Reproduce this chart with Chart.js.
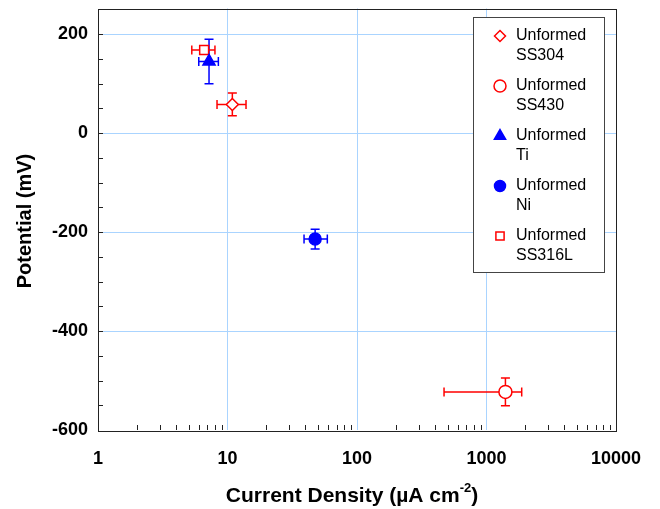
<!DOCTYPE html>
<html>
<head>
<meta charset="utf-8">
<script src="https://cdn.jsdelivr.net/npm/chart.js@4.4.1/dist/chart.umd.min.js"></script>
<style>
  body { margin: 0; background: #fff; }
  #wrap { width: 660px; height: 509px; position: relative; }
</style>
</head>
<body>
<div id="wrap"><canvas id="polChart"></canvas></div>
<script>
// values
var seriesNames = ['Unformed SS304', 'Unformed SS430', 'Unformed Ti', 'Unformed Ni', 'Unformed SS316L'];
var currentDensity = [10.9, 1400, 7.2, 47.5, 6.6];     // uA cm-2
var potential = [58, -523, 145, -214, 168];              // mV
var currentLow = [8.3, 470, 6.0, 39, 5.3];
var currentHigh = [13.9, 1870, 8.5, 59, 8.0];
var potentialErr = [23, 28, 45, 20, 8];
var xTicks = [1, 10, 100, 1000, 10000];
var yTicks = [-600, -400, -200, 0, 200];

var red = '#ff0000';
var blue = '#0000ff';
var gridBlue = '#aad4ff';
var none = 'rgba(0,0,0,0)';
var styles = [
    { shape: 'rectRot', radius: 6, fill: '#fff', line: red },
    { shape: 'circle', radius: 6.5, fill: '#fff', line: red },
    { shape: 'triangle', radius: 7, fill: blue, line: blue },
    { shape: 'circle', radius: 6, fill: blue, line: blue },
    { shape: 'rect', radius: 6.3, fill: '#fff', line: red }
];

var datasets = [];
for (var i = 0; i < seriesNames.length; i++) {
    datasets.push({
        label: seriesNames[i],
        data: [{ x: currentDensity[i], y: potential[i] }],
        pointStyle: styles[i].shape,
        pointRadius: styles[i].radius,
        pointHoverRadius: styles[i].radius,
        backgroundColor: styles[i].fill,
        borderColor: styles[i].line,
        pointBorderWidth: 1.5
    });
}

// error bars, drawn under the markers
var errorBars = {
    id: 'errorBars',
    beforeDatasetsDraw: function (chart) {
        var ctx = chart.ctx, xs = chart.scales.x, ys = chart.scales.y;
        var cap = 4.5;
        ctx.save();
        ctx.lineWidth = 1.5;
        for (var i = 0; i < seriesNames.length; i++) {
            var px = xs.getPixelForValue(currentDensity[i]);
            var py = ys.getPixelForValue(potential[i]);
            var x1 = xs.getPixelForValue(currentLow[i]);
            var x2 = xs.getPixelForValue(currentHigh[i]);
            var y1 = ys.getPixelForValue(potential[i] + potentialErr[i]);
            var y2 = ys.getPixelForValue(potential[i] - potentialErr[i]);
            ctx.strokeStyle = styles[i].line;
            ctx.beginPath();
            ctx.moveTo(x1, py); ctx.lineTo(x2, py);
            ctx.moveTo(x1, py - cap); ctx.lineTo(x1, py + cap);
            ctx.moveTo(x2, py - cap); ctx.lineTo(x2, py + cap);
            ctx.moveTo(px, y1); ctx.lineTo(px, y2);
            ctx.moveTo(px - cap, y1); ctx.lineTo(px + cap, y1);
            ctx.moveTo(px - cap, y2); ctx.lineTo(px + cap, y2);
            ctx.stroke();
        }
        ctx.restore();
    }
};

// frame, minor ticks, axis titles and the boxed legend
var decorations = {
    id: 'decorations',
    afterDraw: function (chart) {
        var ctx = chart.ctx, a = chart.chartArea;
        var xs = chart.scales.x, ys = chart.scales.y;
        ctx.save();
        ctx.strokeStyle = '#222';
        ctx.lineWidth = 1;
        ctx.beginPath();
        // minor ticks on y every 50 mV
        for (var v = -550; v < 260; v += 50) {
            var py = Math.round(ys.getPixelForValue(v)) + 0.5;
            ctx.moveTo(a.left, py); ctx.lineTo(a.left + 5, py);
        }
        // minor ticks on x
        for (var d = 1; d < 10000; d *= 10) {
            for (var m = 2; m <= 9; m++) {
                var px = Math.round(xs.getPixelForValue(d * m)) + 0.5;
                ctx.moveTo(px, a.bottom); ctx.lineTo(px, a.bottom - 5);
            }
        }
        ctx.stroke();
        ctx.strokeRect(Math.round(a.left) + 0.5, Math.round(a.top) + 0.5,
            Math.round(a.right - a.left), Math.round(a.bottom - a.top));

        // axis titles
        var big = 'bold 21px "Liberation Sans", Arial, sans-serif';
        var small = 'bold 13px "Liberation Sans", Arial, sans-serif';
        ctx.fillStyle = '#000';
        ctx.textBaseline = 'middle';
        ctx.textAlign = 'left';
        var t1 = 'Current Density (µA cm', sup = '-2', t2 = ')';
        ctx.font = big;
        var w1 = ctx.measureText(t1).width, w3 = ctx.measureText(t2).width;
        ctx.font = small;
        var w2 = ctx.measureText(sup).width;
        var tx = 352 - (w1 + w2 + w3) / 2, ty = 496;
        ctx.font = big;
        ctx.fillText(t1, tx, ty);
        ctx.font = small;
        ctx.fillText(sup, tx + w1, ty - 8);
        ctx.font = big;
        ctx.fillText(t2, tx + w1 + w2, ty);

        ctx.save();
        ctx.translate(25, 221);
        ctx.rotate(-Math.PI / 2);
        ctx.textAlign = 'center';
        ctx.font = 'bold 20px "Liberation Sans", Arial, sans-serif';
        ctx.fillText('Potential (mV)', 0, 0);
        ctx.restore();

        // legend box
        var lx = 473, ly = 17, lw = 131, lh = 255;
        ctx.fillStyle = '#fff';
        ctx.fillRect(lx, ly, lw, lh);
        ctx.strokeStyle = '#444';
        ctx.lineWidth = 1;
        ctx.strokeRect(lx + 0.5, ly + 0.5, lw, lh);
        ctx.font = '16px "Liberation Sans", Arial, sans-serif';
        for (var i = 0; i < seriesNames.length; i++) {
            var cy = 36 + i * 50;
            var words = seriesNames[i].split(' ');
            ctx.fillStyle = styles[i].fill;
            ctx.strokeStyle = styles[i].line;
            ctx.lineWidth = 1.5;
            Chart.helpers.drawPoint(ctx, {
                pointStyle: styles[i].shape,
                radius: styles[i].radius - 0.5,
                borderWidth: 1.5
            }, 500, cy);
            ctx.fillStyle = '#000';
            ctx.fillText(words[0], 516, cy);
            ctx.fillText(words[1], 516, cy + 20);
        }
        ctx.restore();
    }
};

var chart = new Chart(document.getElementById('polChart'), {
    type: 'scatter',
    data: { datasets: datasets },
    plugins: [errorBars, decorations],
    options: {
        responsive: true,
        maintainAspectRatio: false,
        animation: false,
        layout: { padding: { top: 8, right: 44, left: 0, bottom: 0 } },
        plugins: {
            legend: { display: false },
            tooltip: { enabled: false }
        },
        scales: {
            x: {
                type: 'logarithmic',
                min: 1,
                max: 10000,
                afterFit: function (s) {
                    s.height = 79;
                    s.paddingLeft = 0;
                    s.paddingRight = 0;
                },
                afterBuildTicks: function (s) {
                    s.ticks = xTicks.map(function (v) { return { value: v }; });
                },
                grid: { drawTicks: false, color: [none, gridBlue, gridBlue, gridBlue, none] },
                border: { display: false },
                ticks: {
                    padding: 18,
                    color: '#000',
                    font: { family: '"Liberation Sans", Arial, sans-serif', size: 18, weight: 'bold' },
                    callback: function (v) { return String(v); }
                }
            },
            y: {
                min: -600,
                max: 252,
                afterFit: function (s) {
                    s.width = 98;
                    s.paddingTop = 0;
                    s.paddingBottom = 0;
                },
                afterBuildTicks: function (s) {
                    s.ticks = yTicks.map(function (v) { return { value: v }; });
                },
                grid: { drawTicks: false, color: [none, gridBlue, gridBlue, gridBlue, gridBlue] },
                border: { display: false },
                ticks: {
                    padding: 10,
                    color: '#000',
                    font: { family: '"Liberation Sans", Arial, sans-serif', size: 18, weight: 'bold' }
                }
            }
        }
    }
});
</script>
</body>
</html>
